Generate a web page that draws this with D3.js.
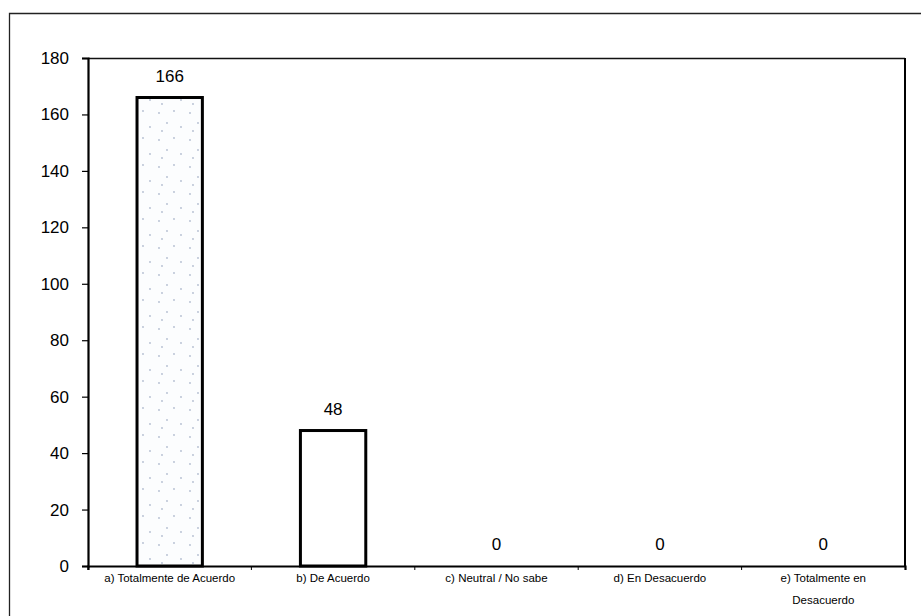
<!DOCTYPE html>
<html><head><meta charset="utf-8">
<script src="https://cdn.jsdelivr.net/npm/d3@7"></script>
<style>body{margin:0;background:#fff}svg{display:block}</style>
</head><body><svg id="c" width="921" height="616"></svg>
<script>
const categories = ["a) Totalmente de Acuerdo","b) De Acuerdo","c) Neutral / No sabe","d) En Desacuerdo","e) Totalmente en Desacuerdo"];
const categoryLines = [["a) Totalmente de Acuerdo"],["b) De Acuerdo"],["c) Neutral / No sabe"],["d) En Desacuerdo"],["e) Totalmente en","Desacuerdo"]];
const values = [166,48,0,0,0];
const yTicks = [0,20,40,60,80,100,120,140,160,180];

const svg = d3.select("#c");
const m = {left:88, right:905, top:58, bottom:566};
const x = d3.scaleBand().domain(categories).range([m.left,m.right]).paddingInner(0.6).paddingOuter(0.3);
const y = d3.scaleLinear().domain([0,180]).range([m.bottom,m.top]);

const defs = svg.append("defs");
const pat = defs.append("pattern").attr("id","dots").attr("patternUnits","userSpaceOnUse").attr("width",31).attr("height",27);
pat.append("rect").attr("width",31).attr("height",27).attr("fill","#fcfdfe");
[[4,5],[19,3],[12,15],[26,19],[7,23]].forEach(p=>pat.append("circle").attr("cx",p[0]).attr("cy",p[1]).attr("r",0.9).attr("fill","#b3bdd0"));

// outer frame
svg.append("path").attr("d","M9.5,616 L9.5,13.5 L921,13.5").attr("fill","none").attr("stroke","#222").attr("stroke-width",1.3);
// plot frame top/right
svg.append("path").attr("d",`M${m.left},${m.top+0.5} L${m.right},${m.top+0.5}`).attr("fill","none").attr("stroke","#111").attr("stroke-width",1.3);
svg.append("path").attr("d",`M${m.right},${m.top} L${m.right},${m.bottom}`).attr("fill","none").attr("stroke","#000").attr("stroke-width",2);

// bars
svg.selectAll("rect.bar").data(values).enter().append("rect").attr("class","bar")
  .attr("x",(d,i)=>x(categories[i])).attr("width",x.bandwidth())
  .attr("y",d=>y(d)).attr("height",d=>y(0)-y(d))
  .attr("fill",(d,i)=>i===0?"url(#dots)":"#fff")
  .attr("stroke","#000").attr("stroke-width",d=>d>0?3:0);

// axes
const ya = svg.append("g").attr("transform",`translate(${m.left},0)`)
  .call(d3.axisLeft(y).tickValues(yTicks).tickSize(6).tickPadding(13));
ya.select(".domain").attr("stroke","#000").attr("stroke-width",2.2);
ya.selectAll(".tick line").attr("stroke","#000").attr("stroke-width",1.2);
ya.selectAll("text").attr("font-family","Liberation Sans, Arial, sans-serif").attr("font-size",17).attr("fill","#000");

const xa = svg.append("g").attr("transform",`translate(0,${m.bottom})`)
  .call(d3.axisBottom(x).tickSize(4).tickFormat(""));
xa.select(".domain").attr("stroke","#000").attr("stroke-width",2.2);
xa.selectAll(".tick line").attr("stroke","#000").attr("stroke-width",1).attr("transform",(d,i)=>`translate(${-x.step()/2},0)`);

// category labels
categories.forEach((c,i)=>{
  const t = svg.append("text").attr("x",x(c)+x.bandwidth()/2).attr("y",582)
    .attr("text-anchor","middle").attr("font-family","Liberation Sans, Arial, sans-serif")
    .attr("font-size",11.5).attr("fill","#000");
  categoryLines[i].forEach((l,j)=>t.append("tspan").attr("x",x(c)+x.bandwidth()/2).attr("dy",j?22:0).text(l));
});

// value labels
svg.selectAll("text.val").data(values).enter().append("text").attr("class","val")
  .attr("x",(d,i)=>x(categories[i])+x.bandwidth()/2).attr("y",d=>y(d)-16)
  .attr("text-anchor","middle").attr("font-family","Liberation Sans, Arial, sans-serif")
  .attr("font-size",17).attr("fill","#000").text(d=>d);
</script></body></html>
